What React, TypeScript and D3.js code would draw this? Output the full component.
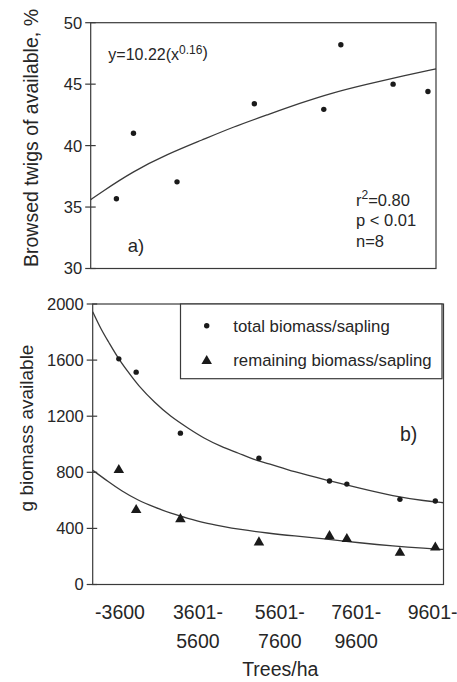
import React from "react";
import * as d3 from "d3";

// ---- data ----
const densities = [2670, 3115, 4250, 6265, 8075, 8520, 9882, 10790]; // trees/ha
const browsedPct = [35.67, 41.0, 37.05, 43.4, 42.95, 48.2, 45.0, 44.4];
const totalBiomass = [1609, 1514, 1079, 900, 738, 716, 607, 595];
const remainingBiomass = [816, 531, 466, 300, 345, 324, 226, 264];

const fitBrowsedX = [2000, 2250, 3100, 4000, 4900, 5700, 6600, 7450, 8300, 9200, 10050, 11000];
const fitBrowsedY = [35.6, 36.15, 37.9, 39.3, 40.45, 41.5, 42.5, 43.45, 44.3, 45.0, 45.6, 46.25];

const fitTotalX = [2000, 2220, 2400, 2650, 2900, 3150, 3600, 4000, 4450, 4850, 5300, 5750, 6150, 6500, 7150, 8000, 8850, 9700, 10550, 11000];
const fitTotalY = [1945, 1816, 1733, 1614, 1519, 1424, 1293, 1197, 1114, 1043, 983, 936, 888, 865, 804, 745, 686, 631, 595, 583];

const fitRemainX = [2000, 2400, 2730, 3150, 3600, 4000, 4450, 4850, 5300, 5750, 6500, 7150, 8000, 8850, 9700, 10550, 11000];
const fitRemainY = [815, 733, 669, 602, 550, 507, 471, 440, 416, 393, 366, 347, 324, 297, 274, 257, 250];

const topTicks = [30, 35, 40, 45, 50];
const bottomTicks = [0, 400, 800, 1200, 1600, 2000];
const classPositions = [2700, 4700, 6800, 8760, 10720];
const classLabels = [["-3600"], ["3601-", "5600"], ["5601-", "7600"], ["7601-", "9600"], ["9601-"]];
const legendLabels = ["total biomass/sapling", "remaining biomass/sapling"];

const FONT = "'Liberation Sans', Arial, Helvetica, sans-serif";
const INK = "#262626";
const LINE = "#3a3a3a";

export default function App() {
  // top panel
  const tL = 90.7, tR = 436, tT = 22.7, tB = 268.5;
  // bottom panel
  const bL = 92.7, bR = 443.5, bT = 304, bB = 584.5;

  const xTop = d3.scaleLinear().domain([2000, 11000]).range([tL, tR]);
  const yTop = d3.scaleLinear().domain([30, 50]).range([tB, tT]);
  const xBot = d3.scaleLinear().domain([2000, 11000]).range([bL, bR]);
  const yBot = d3.scaleLinear().domain([0, 2000]).range([bB, bT]);

  const lineTop = d3.line<number>().x((_, i) => xTop(fitBrowsedX[i])).y((d) => yTop(d)).curve(d3.curveBasis);
  const lineTotal = d3.line<number>().x((_, i) => xBot(fitTotalX[i])).y((d) => yBot(d)).curve(d3.curveBasis);
  const lineRemain = d3.line<number>().x((_, i) => xBot(fitRemainX[i])).y((d) => yBot(d)).curve(d3.curveBasis);

  const tri = d3.symbol().type(d3.symbolTriangle).size(48)();

  return (
    <svg
      width={457}
      height={682}
      style={{ position: "absolute", left: 0, top: 0, background: "#fff" }}
      fontFamily={FONT}
    >
      <rect width={457} height={682} fill="#fff" />

      {/* ===== TOP PANEL ===== */}
      <rect x={tL} y={tT} width={tR - tL} height={tB - tT} fill="none" stroke={LINE} strokeWidth={1.2} />
      {topTicks.map((t) => (
        <g key={t}>
          <line x1={tL - 5.5} x2={tL + 5} y1={yTop(t)} y2={yTop(t)} stroke={LINE} strokeWidth={1.2} />
          <text x={tL - 8.5} y={yTop(t)} dy="0.36em" textAnchor="end" fontSize={16.5} fill={INK}>
            {t}
          </text>
        </g>
      ))}
      <text
        transform={`translate(37.5,138) rotate(-90)`}
        textAnchor="middle"
        fontSize={19.5}
        fill={INK}
      >
        Browsed twigs of available, %
      </text>
      <path d={lineTop(fitBrowsedY) || ""} fill="none" stroke={LINE} strokeWidth={1.3} />
      {browsedPct.map((v, i) => (
        <circle key={i} cx={xTop(densities[i])} cy={yTop(v)} r={2.7} fill="#1a1a1a" />
      ))}
      <text x={108.3} y={59.5} fontSize={16} fill={INK}>
        y=10.22(x
        <tspan fontSize={12} dy={-6}>0.16</tspan>
        <tspan dy={4}>)</tspan>
      </text>
      <text x={356} y={205.5} fontSize={16.5} fill={INK}>
        r<tspan fontSize={12} dy={-7}>2</tspan>
        <tspan dy={7}>=0.80</tspan>
      </text>
      <text x={356} y={225.5} fontSize={16.5} fill={INK}>p &lt; 0.01</text>
      <text x={356} y={246.5} fontSize={16.5} fill={INK}>n=8</text>
      <text x={127.7} y={251.5} fontSize={18.5} fill={INK}>a)</text>

      {/* ===== BOTTOM PANEL ===== */}
      <rect x={bL} y={bT} width={bR - bL} height={bB - bT} fill="none" stroke={LINE} strokeWidth={1.2} />
      {bottomTicks.map((t) => (
        <g key={t}>
          <line x1={bL - 6} x2={bL + 4.5} y1={yBot(t)} y2={yBot(t)} stroke={LINE} strokeWidth={1.2} />
          <text x={bL - 9} y={yBot(t)} dy="0.36em" textAnchor="end" fontSize={16.5} fill={INK}>
            {t}
          </text>
        </g>
      ))}
      <text
        transform={`translate(33.3,428) rotate(-90)`}
        textAnchor="middle"
        fontSize={19}
        fill={INK}
      >
        g biomass available
      </text>

      {/* legend */}
      <rect x={180.5} y={bT} width={442 - 180.5} height={378.7 - bT} fill="#fff" stroke={LINE} strokeWidth={1.2} />
      <circle cx={206.7} cy={325.7} r={2.7} fill="#1a1a1a" />
      <path d={tri || ""} transform="translate(206.7,361)" fill="#1a1a1a" />
      <text x={233.3} y={332} fontSize={16.75} fill={INK}>{legendLabels[0]}</text>
      <text x={233.3} y={366} fontSize={16.75} fill={INK}>{legendLabels[1]}</text>

      <path d={lineTotal(fitTotalY) || ""} fill="none" stroke={LINE} strokeWidth={1.3} />
      <path d={lineRemain(fitRemainY) || ""} fill="none" stroke={LINE} strokeWidth={1.3} />
      {totalBiomass.map((v, i) => (
        <circle key={i} cx={xBot(densities[i])} cy={yBot(v)} r={2.7} fill="#1a1a1a" />
      ))}
      {remainingBiomass.map((v, i) => (
        <path key={i} d={tri || ""} transform={`translate(${xBot(densities[i])},${yBot(v)})`} fill="#1a1a1a" />
      ))}
      <text x={400} y={441} fontSize={19.5} fill={INK}>b)</text>

      {/* x axis category labels */}
      {classLabels.map((lines, i) => (
        <text key={i} textAnchor="middle" fontSize={19.5} fill={INK}>
          {lines.map((ln, j) => (
            <tspan key={j} x={xBot(classPositions[i])} y={618.5 + j * 29}>
              {ln}
            </tspan>
          ))}
        </text>
      ))}
      <text x={280.3} y={675.5} textAnchor="middle" fontSize={19.5} fill={INK}>
        Trees/ha
      </text>
    </svg>
  );
}
